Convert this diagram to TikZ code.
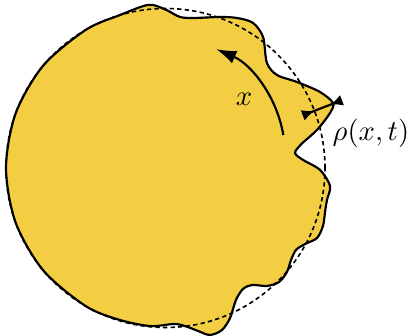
\documentclass[tikz,border=0pt]{standalone}
\usepackage{amsmath}
\usepackage{tikz}
\usetikzlibrary{arrows.meta}

\definecolor{blobyellow}{RGB}{243,206,67}

\begin{document}
\begin{tikzpicture}[x=0.37pt,y=0.37pt,
    blob/.style={fill=blobyellow, draw=black, line width=0.8pt},
    refcircle/.style={draw=black, line width=0.6pt, dash pattern=on 1.6pt off 1.2pt},
    flow/.style={line width=0.8pt, -{Latex[length=7.5pt,width=5pt]}},
    gap/.style={line width=0.8pt,
        {Latex[length=4.5pt,width=4.2pt,reversed]}-{Latex[length=4.5pt,width=4.2pt,reversed]}},
    lab/.style={scale=1.06}
]
\useasboundingbox (-165.5,-168) rectangle (249.5,168);

% Perturbed interface (polar samples, wavy on the right)
\draw[blob] plot[smooth cycle] coordinates {
    (-87:156.2) (-83:159.2) (-78.7:166.2) (-75.1:172.8) (-70.8:171.6)
    (-66.7:163.3) (-61.9:149.6) (-57.4:143.7) (-53.5:145.5) (-49.3:155.6)
    (-45.1:160.9) (-40.6:159.9) (-36.2:155.6) (-32.1:154.1) (-28.6:158.9)
    (-24.8:166.9) (-20.2:167.8) (-15.4:165.5) (-11.2:164.6) (-6.2:165.5)
    (-0.7:154.5) (3.3:138) (6.6:130.4) (10:138) (14.1:156.2)
    (18.5:173.5) (21.2:179.7) (26.2:172.2) (33.2:157.1) (39.8:145.2)
    (46:146) (53.3:163.3) (58.9:169.4) (64.5:166.2) (70.2:160.5)
    (78.9:152.9) (84.5:151.7) (90.2:158.7) (96:164) (106.6:159.6)
    (120:159.5) (140:159.5) (160:159.5) (180:159.5) (200:159.5)
    (220:159.5) (240:159.5) (253:158.7) (264.5:158.8)
};

% Unperturbed circle
\draw[refcircle] (0,0) circle[radius=159.5];

% Arc length coordinate
\coordinate (xtail) at (117.8,33);
\draw[flow] (xtail) arc[start angle=9.5, end angle=66.6, radius=114.2];
\node[lab] (xlab) at (78.5,69) {$x$};

% Height of the perturbation
\coordinate (gapin) at (21:147);
\coordinate (gapout) at (21:189);
\draw[gap] (gapin) -- (gapout);
\node[lab] (rholab) at (205.5,34.3) {$\rho(x,t)$};

\end{tikzpicture}
\end{document}
